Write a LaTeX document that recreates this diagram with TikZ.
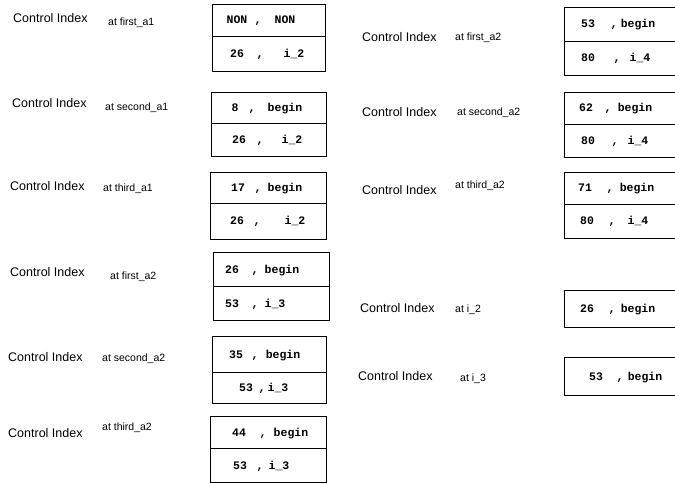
\documentclass[tikz,border=0pt]{standalone}
\usepackage{fontspec}
\setmainfont{Liberation Sans}
\newfontfamily\cellfont{Liberation Mono}
\tikzset{
  cell/.style={draw=black, line width=1.2pt, inner sep=0pt, anchor=north west},
  ct/.style={anchor=base, inner sep=0pt, yshift=-4pt, font=\cellfont\bfseries\fontsize{11.5}{12}\selectfont},
  cilabel/.style={anchor=base west, inner sep=0pt, font=\fontsize{12.5}{14}\selectfont},
  atlabel/.style={anchor=base west, inner sep=0pt, font=\fontsize{10.5}{12}\selectfont}
}
% name, left, right, top, bottom
\newcommand\cellbox[5]{\node[cell, minimum width={#3pt-#2pt}, minimum height={#5pt-#4pt}] (#1) at (#2,#4) {};}
% name, y, x1, t1, xc, x2, t2
\newcommand\cellrow[7]{\node[ct] (#1n) at (#3,#2) {#4}; \node[ct] (#1c) at (#5,#2) {,}; \node[ct] (#1w) at (#6,#2) {#7};}
% name, x1, y1, x2, y2, text
\newcommand\labelpair[6]{\node[cilabel] (#1ci) at (#2,#3) {Control Index}; \node[atlabel] (#1at) at (#4,#5) {#6};}
\begin{document}
\begin{tikzpicture}[x=1pt,y=-1pt]
\useasboundingbox (0,0) rectangle (675,484);
\clip (0,0) rectangle (675,484);
\fill[white] (0,0) rectangle (675,484);

% left column boxes
\cellbox{b1t}{212}{325}{4}{36}   \cellbox{b1b}{212}{325}{36}{71}
\cellbox{b2t}{211}{326}{92}{123} \cellbox{b2b}{211}{326}{123}{156}
\cellbox{b3t}{210}{326}{172}{203} \cellbox{b3b}{210}{326}{203}{239}
\cellbox{b4t}{213}{329}{252}{286} \cellbox{b4b}{213}{329}{286}{320}
\cellbox{b5t}{212}{326}{336}{372} \cellbox{b5b}{212}{326}{372}{403}
\cellbox{b6t}{210}{326}{416}{448} \cellbox{b6b}{210}{326}{448}{482}

% right column boxes
\cellbox{r1t}{564}{690}{7}{41}   \cellbox{r1b}{564}{690}{41}{75}
\cellbox{r2t}{564}{690}{92}{124} \cellbox{r2b}{564}{690}{124}{157}
\cellbox{r3t}{564}{690}{172}{204} \cellbox{r3b}{564}{690}{204}{238}
\cellbox{r4}{564}{690}{290}{327}
\cellbox{r5}{564}{690}{357}{395}

% left cell texts
\cellrow{t1a}{20}{237}{NON}{258}{285}{NON}
\cellrow{t1b}{53.5}{237}{26}{260}{294}{i\_2}
\cellrow{t2a}{107.5}{235}{8}{252}{285}{begin}
\cellrow{t2b}{139.5}{239}{26}{260}{292}{i\_2}
\cellrow{t3a}{187.5}{238}{17}{258}{285}{begin}
\cellrow{t3b}{221}{237}{26}{257}{295}{i\_2}
\cellrow{t4a}{269}{232}{26}{255}{282}{begin}
\cellrow{t4b}{303}{232}{53}{255}{275}{i\_3}
\cellrow{t5a}{354}{236}{35}{255}{283}{begin}
\cellrow{t5b}{387.5}{246}{53}{262}{278}{i\_3}
\cellrow{t6a}{432}{239}{44}{263}{291}{begin}
\cellrow{t6b}{465}{240}{53}{260}{279}{i\_3}

% right cell texts
\cellrow{u1a}{24}{588}{53}{614}{638}{begin}
\cellrow{u1b}{58}{588}{80}{617}{640}{i\_4}
\cellrow{u2a}{108}{586}{62}{608}{635}{begin}
\cellrow{u2b}{140.5}{588}{80}{615}{638}{i\_4}
\cellrow{u3a}{188}{585}{71}{610}{637}{begin}
\cellrow{u3b}{221}{587}{80}{612}{638}{i\_4}
\cellrow{u4}{308.5}{587}{26}{612}{638}{begin}
\cellrow{u5}{376}{596}{53}{620}{645}{begin}

% labels
\labelpair{l1}{13}{22.5}{108}{26}{at first\_a1}
\labelpair{l2}{12}{107.5}{105}{111}{at second\_a1}
\labelpair{l3}{10}{190.5}{103}{192}{at third\_a1}
\labelpair{l4}{10}{276.5}{110}{279}{at first\_a2}
\labelpair{l5}{8}{361.5}{102}{361}{at second\_a2}
\labelpair{l6}{8}{437.5}{102}{430}{at third\_a2}
\labelpair{m1}{362}{41.5}{455}{41}{at first\_a2}
\labelpair{m2}{362}{116.5}{457}{116}{at second\_a2}
\labelpair{m3}{362}{194.5}{455}{189}{at third\_a2}
\labelpair{m4}{360}{312.5}{455}{312}{at i\_2}
\labelpair{m5}{358}{380.5}{460}{381}{at i\_3}
\end{tikzpicture}
\end{document}
